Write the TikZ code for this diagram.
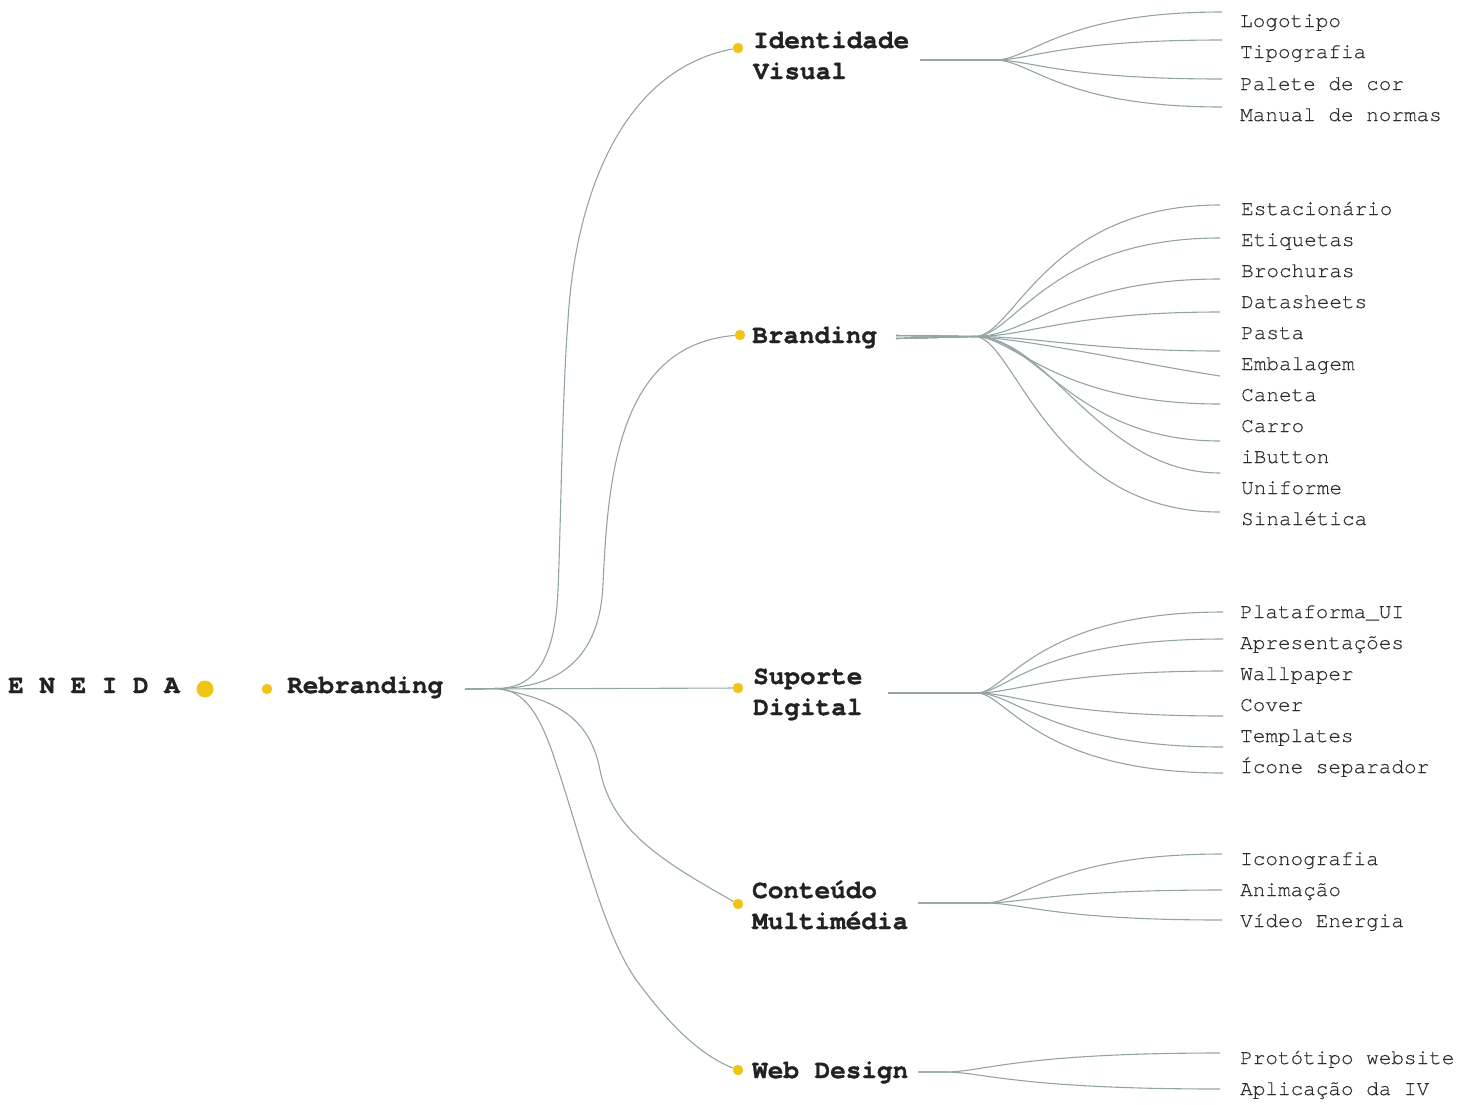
\documentclass[tikz,border=0pt]{standalone}
\usepackage{fontspec}
\setmainfont{texgyrecursor}[Extension=.otf, UprightFont=*-regular, BoldFont=*-bold, ItalicFont=*-italic, BoldItalicFont=*-bolditalic, Ligatures={NoCommon}, UprightFeatures={FakeBold=0.4}, BoldFeatures={FakeBold=1.2}]
\usetikzlibrary{calc}
\definecolor{linec}{RGB}{148,164,164}
\definecolor{doty}{RGB}{241,196,24}
\definecolor{txt}{RGB}{34,34,34}
\definecolor{leaftxt}{RGB}{45,45,45}
% branch curve: start, hub, end, ctrl ratio a, ctrl ratio b
\newcommand\brc[5]{\draw[conn] (#1) -- (#2) let \p1=(#2), \p2=(#3) in .. controls ({\x1+#4*(\x2-\x1)},\y1) and ({\x1+#5*(\x2-\x1)},\y2) .. (#3);}
\begin{document}
\begin{tikzpicture}[x=1pt,y=-1pt,
  conn/.style={draw=linec,line width=1.1pt},
  dotn/.style={circle,fill=doty,inner sep=0pt,minimum size=10.5pt},
  mainl/.style={anchor=base west,inner sep=0pt,align=left,text=txt,font=\bfseries\fontsize{26}{31}\selectfont},
  leaf/.style={anchor=base west,inner sep=0pt,text=leaftxt,font=\fontsize{21}{25}\selectfont}]
\useasboundingbox (0,0) rectangle (1472,1104);

% root
\node[mainl] (eneida) at (8,693) {E N E I D A};
\node[circle,fill=doty,inner sep=0pt,minimum size=17pt] (bigdot) at (205,689) {};
\node[dotn] (rdot) at (267,689) {};
\node[mainl] (reb) at (287,693) {Rebranding};
\coordinate (rS) at (465,689);
\coordinate (rH) at (497,688.5);

% main dots
\node[dotn] (dId) at (738,48) {};
\node[dotn] (dBr) at (740,335) {};
\node[dotn] (dSu) at (738,688) {};
\node[dotn] (dCo) at (738,904) {};
\node[dotn] (dWe) at (738,1070) {};

% main labels (base anchor = last line)
\node[mainl] (tId) at (753,79) {Identidade\\Visual};
\node[mainl] (tBr) at (752,343) {Branding};
\node[mainl] (tSu) at (753,715) {Suporte\\Digital};
\node[mainl] (tCo) at (752,929) {Conteúdo\\Multimédia};
\node[mainl] (tWe) at (752,1078) {Web Design};

% main connectors
\draw[conn] (rS) -- (rH) .. controls (535,688) and (555,660) .. (558,590)
  .. controls (561,520) and (562,400) .. (568,320)
  .. controls (575,200) and (620,70) .. (dId);
\draw[conn] (rS) -- (rH) .. controls (557,688) and (600,660) .. (603,584)
  .. controls (608,480) and (617,345) .. (dBr);
\draw[conn] (rS) -- (dSu);
\draw[conn] (rS) -- (rH) .. controls (560,700) and (590,720) .. (600,770)
  .. controls (612,830) and (660,860) .. (dCo);
\draw[conn] (rS) -- (rH) .. controls (525,690) and (540,715) .. (555,760)
  .. controls (585,850) and (605,940) .. (640,985)
  .. controls (670,1025) and (700,1055) .. (dWe);

% ---- Identidade Visual
\coordinate (iS) at (920,60);
\coordinate (iH) at (995,60);
\foreach \i/\y in {1/12,2/40,3/79,4/107}{\coordinate (eI\i) at (1222,\y);}
\foreach \i in {1,...,4}{\brc{iS}{iH}{eI\i}{0.16}{0.29}}
\node[leaf] (lI1) at (1240,27) {Logotipo};
\node[leaf] (lI2) at (1240,58) {Tipografia};
\node[leaf] (lI3) at (1240,90) {Palete de cor};
\node[leaf] (lI4) at (1240,121) {Manual de normas};

% ---- Branding
\coordinate (bS1) at (896,335.5);
\coordinate (bS2) at (896,338.5);
\coordinate (bH) at (975,336.5);
\foreach \i/\y in {1/205,2/238,3/279,4/312,5/351,6/376,7/404,8/441,9/473,10/512}{\coordinate (eB\i) at (1220,\y);}
\brc{bS1}{bH}{eB1}{0.16}{0.29}
\brc{bS1}{bH}{eB2}{0.16}{0.30}
\brc{bS1}{bH}{eB3}{0.22}{0.38}
\brc{bS1}{bH}{eB4}{0.22}{0.38}
\brc{bS1}{bH}{eB5}{0.25}{0.48}
\draw[conn] (bS2) -- (bH) .. controls (1040,341) and (1130,362) .. (eB6);
\brc{bS2}{bH}{eB7}{0.16}{0.33}
\brc{bS2}{bH}{eB8}{0.25}{0.40}
\brc{bS2}{bH}{eB9}{0.30}{0.51}
\brc{bS2}{bH}{eB10}{0.16}{0.30}
\node[leaf] (lB1) at (1241,215) {Estacionário};
\node[leaf] (lB2) at (1241,246) {Etiquetas};
\node[leaf] (lB3) at (1241,277) {Brochuras};
\node[leaf] (lB4) at (1241,308) {Datasheets};
\node[leaf] (lB5) at (1241,339) {Pasta};
\node[leaf] (lB6) at (1241,370) {Embalagem};
\node[leaf] (lB7) at (1241,401) {Caneta};
\node[leaf] (lB8) at (1241,432) {Carro};
\node[leaf] (lB9) at (1241,463) {iButton};
\node[leaf] (lB10) at (1241,494) {Uniforme};
\node[leaf] (lB11) at (1241,525) {Sinalética};

% ---- Suporte Digital
\coordinate (sS) at (888,693);
\coordinate (sH) at (977,693);
\foreach \i/\y in {1/612,2/639,3/671,4/716,5/747,6/773}{\coordinate (eS\i) at (1223,\y);}
\brc{sS}{sH}{eS1}{0.12}{0.24}
\brc{sS}{sH}{eS2}{0.12}{0.24}
\brc{sS}{sH}{eS3}{0.16}{0.30}
\brc{sS}{sH}{eS4}{0.16}{0.30}
\brc{sS}{sH}{eS5}{0.16}{0.30}
\brc{sS}{sH}{eS6}{0.12}{0.24}
\node[leaf] (lS1) at (1240,618) {Plataforma\_UI};
\node[leaf] (lS2) at (1240,649) {Apresentações};
\node[leaf] (lS3) at (1240,680) {Wallpaper};
\node[leaf] (lS4) at (1240,711) {Cover};
\node[leaf] (lS5) at (1240,742) {Templates};
\node[leaf] (lS6) at (1240,773) {Ícone separador};

% ---- Conteúdo Multimédia
\coordinate (cS) at (918,903);
\coordinate (cH) at (985,903);
\foreach \i/\y in {1/854,2/890,3/920}{\coordinate (eC\i) at (1222,\y);}
\foreach \i in {1,2,3}{\brc{cS}{cH}{eC\i}{0.16}{0.29}}
\node[leaf] (lC1) at (1240,865) {Iconografia};
\node[leaf] (lC2) at (1240,896) {Animação};
\node[leaf] (lC3) at (1240,927) {Vídeo Energia};

% ---- Web Design
\coordinate (wS) at (918,1072);
\coordinate (wH) at (945,1072);
\coordinate (eW1) at (1220,1053);
\coordinate (eW2) at (1220,1089);
\brc{wS}{wH}{eW1}{0.14}{0.26}
\brc{wS}{wH}{eW2}{0.14}{0.26}
\node[leaf] (lW1) at (1240,1064) {Protótipo website};
\node[leaf] (lW2) at (1240,1095) {Aplicação da IV};
\end{tikzpicture}
\end{document}
